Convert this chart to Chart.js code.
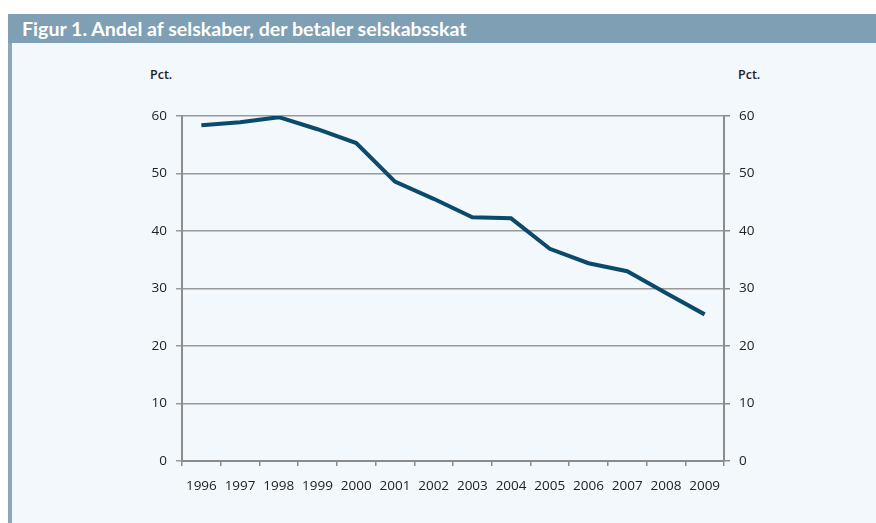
<!DOCTYPE html>
<html lang="da">
<head>
<meta charset="utf-8">
<script src="https://cdn.jsdelivr.net/npm/chart.js@4"></script>
<style>
  html, body { margin: 0; padding: 0; }
  body { width: 876px; height: 523px; background: #ffffff; position: relative; overflow: hidden; font-family: "Open Sans", sans-serif; }
  #titlebar { position: absolute; left: 8px; top: 14px; width: 868px; height: 29px; background: #7fa0b4; color: #fff; font-family: Lato, sans-serif; font-weight: bold; font-size: 19.6px; line-height: 29px; padding-left: 14px; box-sizing: border-box; white-space: nowrap; }
  #panel { position: absolute; left: 8px; top: 43px; width: 868px; height: 480px; background: #f3f8fc; border-left: 4px solid #8ea8b8; box-sizing: border-box; }
  #chart-wrap { position: absolute; left: 12px; top: 43px; width: 864px; height: 480px; }
  .pct { position: absolute; top: 66px; font-size: 12.5px; font-weight: 600; color: #222; }
</style>
</head>
<body>
<div id="titlebar">Figur 1. Andel af selskaber, der betaler selskabsskat</div>
<div id="panel"></div>
<div class="pct" style="left:150px">Pct.</div>
<div class="pct" style="left:738px">Pct.</div>
<div id="chart-wrap"><canvas id="chart" width="864" height="480"></canvas></div>
<script>
// data
const years = ['1996', '1997', '1998', '1999', '2000', '2001', '2002', '2003', '2004', '2005', '2006', '2007', '2008', '2009'];
const shares = [58.4, 58.9, 59.8, 57.7, 55.3, 48.6, 45.6, 42.4, 42.2, 36.9, 34.4, 33.0, 29.2, 25.5];
const yMin = 0;
const yMax = 60;
const yStep = 10;

const axisGray = '#8c8c8c';
const tickFont = { family: '"Open Sans", sans-serif', size: 13.5 };

const ctx = document.getElementById('chart').getContext('2d');
new Chart(ctx, {
    type: 'line',
    data: {
        labels: years,
        datasets: [{
            data: shares,
            borderColor: '#0c4a6c',
            borderWidth: 4,
            pointRadius: 0,
            tension: 0,
            fill: false
        }]
    },
    options: {
        responsive: false,
        animation: false,
        layout: { padding: { top: 73, left: 0, right: 0, bottom: 0 } },
        plugins: { legend: { display: false }, tooltip: { enabled: false } },
        scales: {
            x: {
                offset: true,
                grid: { offset: true, drawOnChartArea: false, tickLength: 5, color: axisGray, lineWidth: 1.5 },
                border: { color: axisGray, width: 2 },
                ticks: { color: '#222', font: tickFont, padding: 12, maxRotation: 0, autoSkip: false },
                afterFit: s => { s.height = 62; }
            },
            y: {
                position: 'left',
                min: yMin, max: yMax,
                ticks: { stepSize: yStep, color: '#222', font: tickFont, padding: 9 },
                grid: { color: '#9a9a9a', lineWidth: 1.5, tickLength: 6 },
                border: { color: axisGray, width: 2 },
                afterFit: s => { s.width = 170; }
            },
            y2: {
                position: 'right',
                min: yMin, max: yMax,
                ticks: { stepSize: yStep, color: '#222', font: tickFont, padding: 9 },
                grid: { drawOnChartArea: false, color: axisGray, lineWidth: 1.5, tickLength: 6 },
                border: { color: axisGray, width: 2 },
                afterFit: s => { s.width = 152; }
            }
        }
    }
});
</script>
</body>
</html>
